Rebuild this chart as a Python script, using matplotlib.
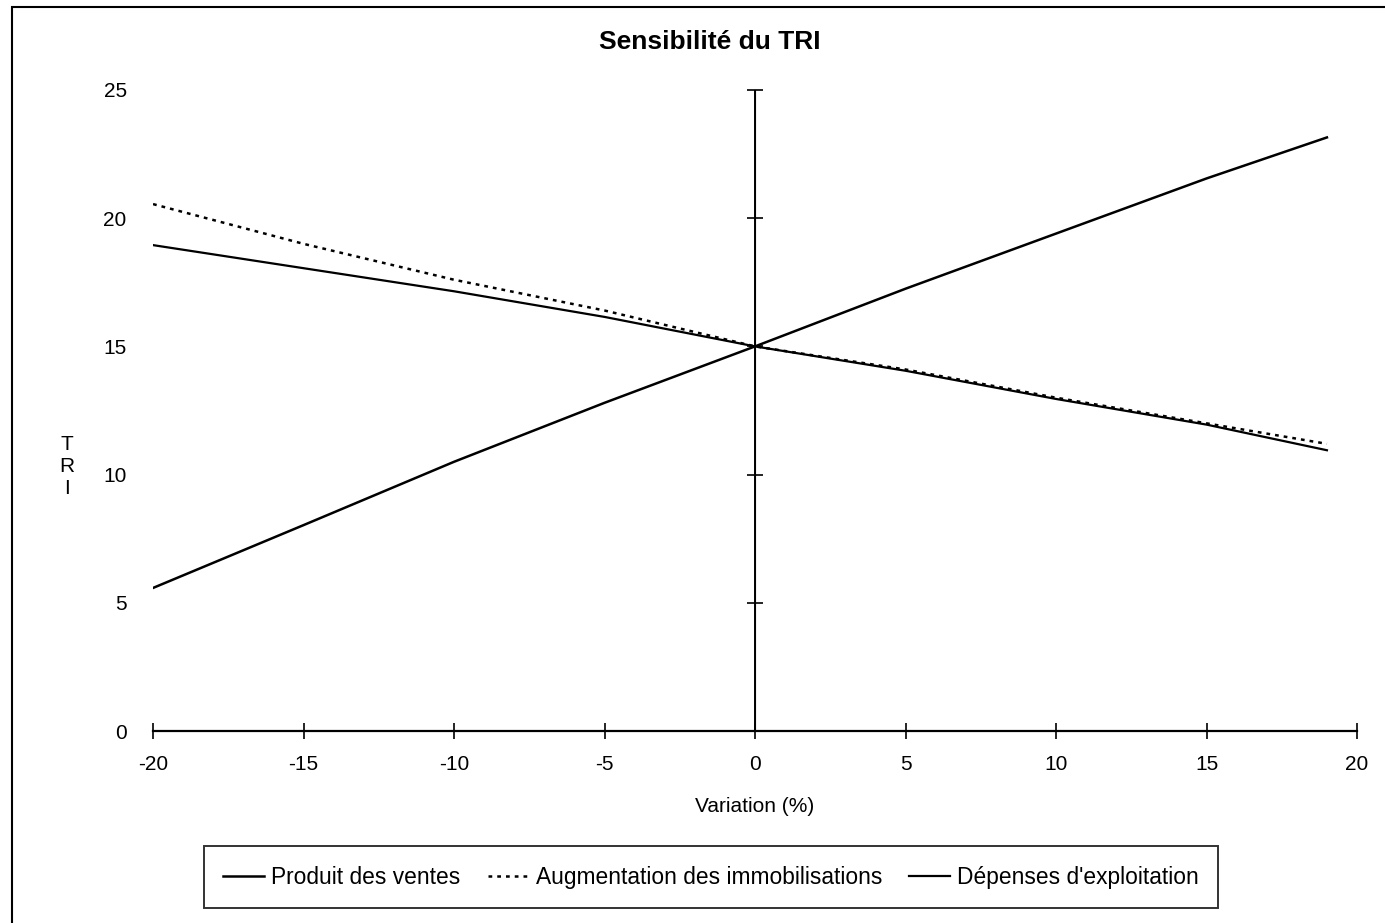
import matplotlib
matplotlib.use('Agg')
import matplotlib.pyplot as plt
from matplotlib.patches import Rectangle

plt.rcParams['font.family'] = ['Liberation Sans', 'DejaVu Sans']
plt.rcParams['axes.unicode_minus'] = False

# data
variation = [-20, -15, -10, -5, 0, 5, 10, 15, 19]
produit_ventes = [5.58, 8.03, 10.5, 12.8, 15.0, 17.25, 19.4, 21.55, 23.15]
augm_immob = [20.55, 19.0, 17.6, 16.4, 15.0, 14.1, 13.0, 12.0, 11.2]
depenses_expl = [18.95, 18.05, 17.15, 16.15, 15.0, 14.05, 12.95, 11.95, 10.95]

x_ticks = [-20, -15, -10, -5, 0, 5, 10, 15, 20]
y_ticks = [0, 5, 10, 15, 20, 25]

fig = plt.figure(figsize=(13.85, 9.23), dpi=100)
ax = fig.add_axes([0.1105, 0.208, 0.8693, 0.6945])

ax.plot(variation, produit_ventes, color='black', lw=1.8, label='Produit des ventes')
ax.plot(variation, augm_immob, color='black', lw=1.8, linestyle=(0, (1.5, 2)),
        label='Augmentation des immobilisations')
ax.plot(variation, depenses_expl, color='black', lw=1.6, label="Dépenses d'exploitation")

ax.set_xlim(-20, 20)
ax.set_ylim(0, 25)

for s in ['top', 'right', 'left']:
    ax.spines[s].set_visible(False)
ax.spines['bottom'].set_linewidth(1.6)

ax.set_xticks(x_ticks)
ax.set_yticks(y_ticks)
ax.tick_params(axis='x', direction='inout', length=11, width=1.2, pad=12, labelsize=15)
ax.tick_params(axis='y', length=0, pad=19, labelsize=15)

# vertical axis through x = 0
ax.axvline(0, color='black', lw=1.4)
mid = ax.secondary_yaxis(0.5)
mid.set_yticks(y_ticks)
mid.set_yticklabels([])
mid.tick_params(direction='inout', length=11, width=1.2)

ax.set_xlabel('Variation (%)', fontsize=15, labelpad=16)
ax.set_ylabel('T\nR\nI', rotation=0, fontsize=15, ha='center', va='center')
ax.yaxis.set_label_coords(-0.0715, 0.413)

fig.text(0.5126, 0.9545, 'Sensibilité du TRI', ha='center', va='center',
         fontsize=19, fontweight='bold')

leg = fig.legend(loc='center', bbox_to_anchor=(0.5134, 0.0498), ncol=3,
                 fontsize=16.4, frameon=True, fancybox=False, edgecolor='black',
                 handlelength=1.8, handletextpad=0.3, columnspacing=1.2,
                 borderpad=0.85)
leg.get_frame().set_linewidth(1.4)

fig.patches.append(Rectangle((12 / 1385, -0.1), 1.2, 1.1 - 7 / 923, transform=fig.transFigure,
                             fill=False, edgecolor='black', lw=1.5))

fig.savefig('out.png', dpi=100)
